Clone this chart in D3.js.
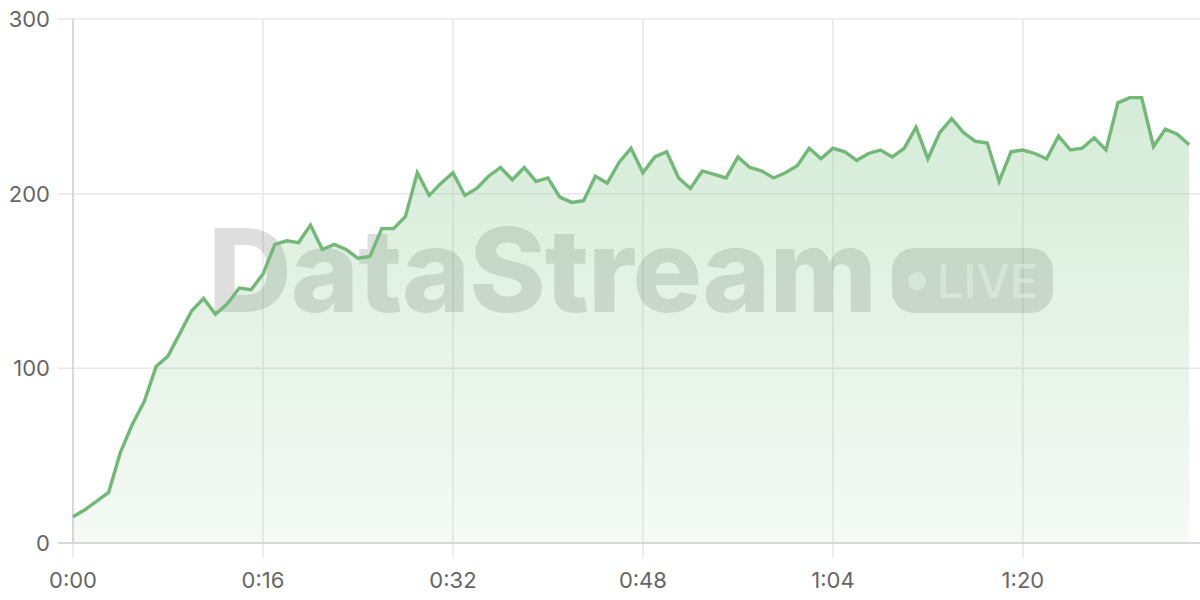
<!DOCTYPE html>
<html>
<head>
<meta charset="utf-8">
<script src="https://cdn.jsdelivr.net/npm/d3@7.9.0/dist/d3.min.js"></script>
<style>
  html, body { margin: 0; padding: 0; background: #fff; }
  svg { display: block; font-family: Inter, "Noto Sans", sans-serif; }
</style>
</head>
<body>
<svg id="chart" width="1200" height="600"></svg>
<script>
// seconds since start, one sample per second
const seconds = d3.range(0, 95);
const viewers = [
  15, 19, 24, 29, 52, 68, 81, 101, 107, 120,
  133, 140, 131, 137, 146, 145, 154, 171, 173, 172,
  182, 168, 171, 168, 163, 164, 180, 180, 187, 212,
  199, 206, 212, 199, 203, 210, 215, 208, 215, 207,
  209, 198, 195, 196, 210, 206, 218, 226, 212, 221,
  224, 209, 203, 213, 211, 209, 221, 215, 213, 209,
  212, 216, 226, 220, 226, 224, 219, 223, 225, 221,
  226, 238, 220, 235, 243, 235, 230, 229, 207, 224,
  225, 223, 220, 233, 225, 226, 232, 225, 252, 255,
  255, 227, 237, 234, 228
];
const xTicks = [0, 16, 32, 48, 64, 80];
const yTicks = [0, 100, 200, 300];

const data = seconds.map((s, i) => ({ t: s, v: viewers[i] }));

const svg = d3.select('#chart');
const margin = { top: 19, right: 0, bottom: 57, left: 73 };
const width = 1200, height = 600;

const x = d3.scaleLinear().domain([0, 95]).range([margin.left, width - margin.right + 1]);
const y = d3.scaleLinear().domain([0, 300]).range([height - margin.bottom, margin.top]);

const fmt = (s) => `${Math.floor(s / 60)}:${String(s % 60).padStart(2, '0')}`;

// gradient for the area
const defs = svg.append('defs');
const grad = defs.append('linearGradient')
  .attr('id', 'areaFill')
  .attr('x1', 0).attr('y1', 0).attr('x2', 0).attr('y2', 1);
grad.append('stop').attr('offset', '0%').attr('stop-color', '#6dbb75').attr('stop-opacity', 0.29);
grad.append('stop').attr('offset', '100%').attr('stop-color', '#6dbb75').attr('stop-opacity', 0.07);

// grid lines
svg.append('g')
  .selectAll('line')
  .data(yTicks)
  .join('line')
  .attr('x1', margin.left - 15).attr('x2', width)
  .attr('y1', (d) => y(d)).attr('y2', (d) => y(d))
  .attr('stroke', '#e8e8e8').attr('stroke-width', 1.5);

svg.append('g')
  .selectAll('line')
  .data(xTicks)
  .join('line')
  .attr('x1', (d) => x(d)).attr('x2', (d) => x(d))
  .attr('y1', margin.top).attr('y2', height - margin.bottom + 15)
  .attr('stroke', '#e8e8e8').attr('stroke-width', 1.5);

// watermark (sits under the area)
const wm = svg.append('g').attr('class', 'watermark');
wm.append('text')
  .attr('x', 208)
  .attr('y', 312)
  .attr('font-size', 116)
  .attr('font-weight', 800)
  .attr('letter-spacing', -1)
  .attr('fill', '#000')
  .attr('fill-opacity', 0.13)
  .text('DataStream');

wm.append('rect')
  .attr('x', 892).attr('y', 248)
  .attr('width', 161).attr('height', 65)
  .attr('rx', 22)
  .attr('fill', '#000').attr('fill-opacity', 0.13);
wm.append('circle')
  .attr('cx', 917).attr('cy', 281).attr('r', 9)
  .attr('fill', '#fff').attr('fill-opacity', 0.55);
wm.append('text')
  .attr('x', 937).attr('y', 298)
  .attr('font-size', 47)
  .attr('font-weight', 500)
  .attr('fill', '#fff').attr('fill-opacity', 0.55)
  .text('LIVE');

// area + line
const area = d3.area()
  .x((d) => x(d.t))
  .y0(y(0))
  .y1((d) => y(d.v));

const line = d3.line()
  .x((d) => x(d.t))
  .y((d) => y(d.v));

svg.append('path')
  .datum(data)
  .attr('d', area)
  .attr('fill', 'url(#areaFill)');

// axis lines
svg.append('line')
  .attr('x1', margin.left).attr('x2', margin.left)
  .attr('y1', margin.top).attr('y2', height - margin.bottom)
  .attr('stroke', '#d0d0d0').attr('stroke-width', 1.5);
svg.append('line')
  .attr('x1', margin.left - 15).attr('x2', width)
  .attr('y1', y(0)).attr('y2', y(0))
  .attr('stroke', '#d0d0d0').attr('stroke-width', 1.5);

svg.append('path')
  .datum(data)
  .attr('d', line)
  .attr('fill', 'none')
  .attr('stroke', '#72b978')
  .attr('stroke-width', 3.4)
  .attr('stroke-linejoin', 'miter');

// tick labels
svg.append('g')
  .selectAll('text')
  .data(yTicks)
  .join('text')
  .attr('x', margin.left - 23)
  .attr('y', (d) => y(d))
  .attr('dy', '0.36em')
  .attr('text-anchor', 'end')
  .attr('font-size', 22)
  .attr('fill', '#666')
  .text((d) => d);

svg.append('g')
  .selectAll('text')
  .data(xTicks)
  .join('text')
  .attr('x', (d) => x(d))
  .attr('y', 588)
  .attr('text-anchor', 'middle')
  .attr('font-size', 22)
  .attr('fill', '#666')
  .text(fmt);
</script>
</body>
</html>
